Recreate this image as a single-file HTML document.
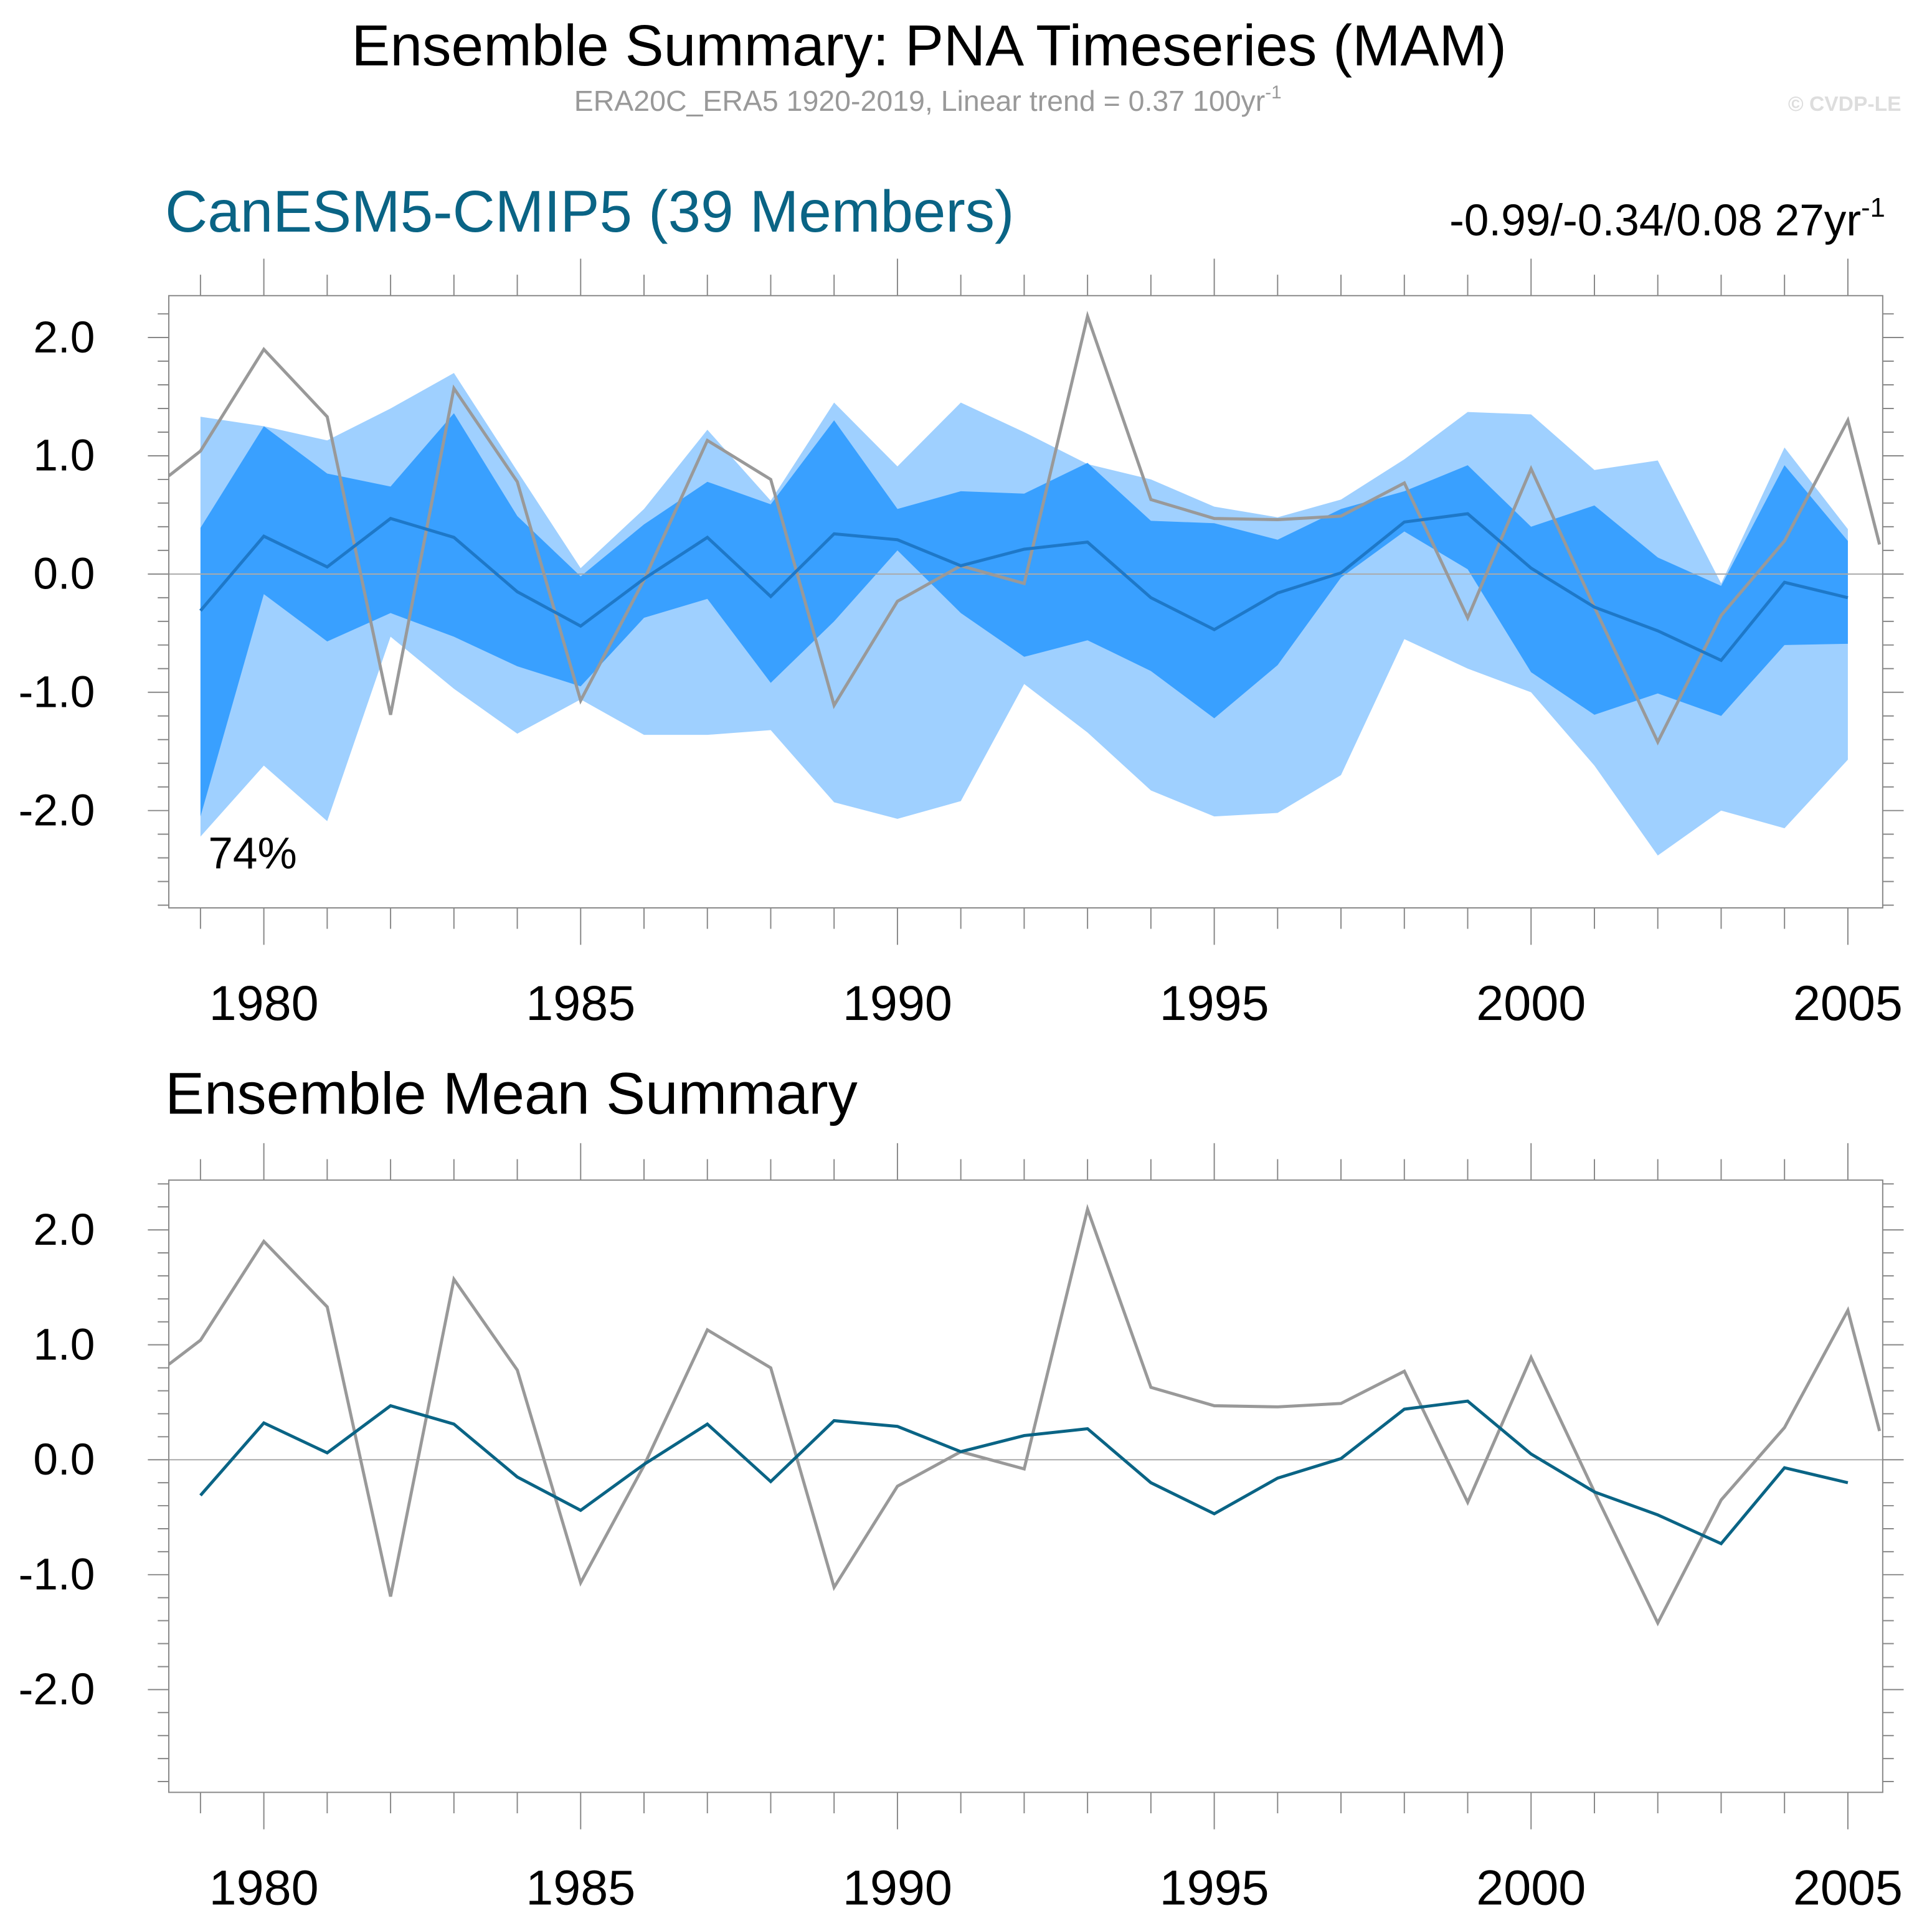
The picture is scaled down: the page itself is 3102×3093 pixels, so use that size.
<!DOCTYPE html>
<html><head><meta charset="utf-8"><style>
html,body{margin:0;padding:0;background:#fff;}
svg{display:block;font-family:"Liberation Sans",Arial,sans-serif;}
</style></head><body>
<svg id="chart" width="3102" height="3093" viewBox="0 0 1568 1563.5" preserveAspectRatio="none" xmlns="http://www.w3.org/2000/svg">
<text x="754" y="53" font-size="47" text-anchor="middle" fill="#000">Ensemble Summary: PNA Timeseries (MAM)</text>
<text x="753" y="90" font-size="23.5" text-anchor="middle" fill="#999">ERA20C_ERA5 1920-2019, Linear trend = 0.37 100yr<tspan font-size="15" dy="-10">-1</tspan></text>
<text x="1543" y="90" font-size="17" font-weight="bold" text-anchor="end" fill="#ddd">© CVDP-LE</text>
<text x="134" y="188" font-size="47.7" fill="#0a6485">CanESM5-CMIP5 (39 Members)</text>
<text x="1530" y="191" font-size="36" text-anchor="end" fill="#000">-0.99/-0.34/0.08 27yr<tspan font-size="22" dy="-15">-1</tspan></text>
<text x="134" y="904" font-size="47.7" fill="#000">Ensemble Mean Summary</text>
<g id="p1"></g><g id="p2"></g>
</svg>
<script>
const years=[1979,1980,1981,1982,1983,1984,1985,1986,1987,1988,1989,1990,1991,1992,1993,1994,1995,1996,1997,1998,1999,2000,2001,2002,2003,2004,2005];
const obsYears=[1978.5].concat(years,[2005.5]);
const obs=[0.83,1.04,1.90,1.33,-1.19,1.57,0.78,-1.07,-0.05,1.13,0.80,-1.11,-0.23,0.07,-0.08,2.18,0.63,0.47,0.46,0.49,0.77,-0.37,0.89,-0.28,-1.42,-0.35,0.28,1.30,0.25];
const ensMean=[-0.31,0.32,0.06,0.47,0.31,-0.15,-0.44,-0.04,0.31,-0.19,0.34,0.29,0.07,0.21,0.27,-0.20,-0.47,-0.16,0.01,0.44,0.51,0.05,-0.28,-0.48,-0.73,-0.07,-0.20];
const ensMax=[1.33,1.25,1.13,1.40,1.70,0.87,0.05,0.55,1.22,0.62,1.45,0.91,1.45,1.20,0.93,0.80,0.57,0.48,0.63,0.97,1.37,1.35,0.88,0.96,-0.08,1.07,0.38];
const ensMin=[-2.22,-1.62,-2.09,-0.53,-0.97,-1.35,-1.06,-1.36,-1.36,-1.32,-1.93,-2.07,-1.92,-0.93,-1.34,-1.83,-2.05,-2.02,-1.70,-0.55,-0.80,-1.00,-1.62,-2.38,-2.00,-2.15,-1.57];
const ensHi=[0.39,1.25,0.85,0.74,1.36,0.49,-0.02,0.42,0.78,0.59,1.30,0.55,0.70,0.68,0.94,0.45,0.43,0.29,0.55,0.70,0.92,0.40,0.58,0.14,-0.10,0.92,0.28];
const ensLo=[-2.05,-0.17,-0.57,-0.33,-0.53,-0.78,-0.95,-0.37,-0.21,-0.92,-0.40,0.20,-0.33,-0.70,-0.56,-0.82,-1.22,-0.77,-0.03,0.36,0.04,-0.83,-1.19,-1.01,-1.20,-0.60,-0.59];
const yTicks=[2,1,0,-1,-2];
const yTickLabels=["2.0","1.0","0.0","-1.0","-2.0"];
const xTicks=[1980,1985,1990,1995,2000,2005];
const NS="http://www.w3.org/2000/svg";
function mk(parent,tag,attrs){const e=document.createElementNS(NS,tag);for(const k in attrs)e.setAttribute(k,attrs[k]);parent.appendChild(e);return e;}
function panel(gid,top,bottom,zeroY,unit,showBands,meanColor,label){
  const g=document.getElementById(gid);
  const L=137,R=1528,x0=1978.5,x1=2005.55;
  const X=v=>L+(v-x0)/(x1-x0)*(R-L);
  const Y=v=>zeroY-v*unit;
  const clip=mk(g,'clipPath',{id:gid+'c'});
  mk(clip,'rect',{x:L,y:top,width:R-L,height:bottom-top});
  const cg=mk(g,'g',{'clip-path':'url(#'+gid+'c)'});
  
  
  if(showBands){
    const band=(up,lo,fill,name)=>{
      let pts=years.map((y,i)=>X(y)+','+Y(up[i]));
      for(let i=years.length-1;i>=0;i--)pts.push(X(years[i])+','+Y(lo[i]));
      const p=mk(cg,'polygon',{points:pts.join(' '),fill:fill});
      
      
    };
    band(ensMax,ensMin,'#9fd0ff','minmax-band');
    band(ensHi,ensLo,'#39a0ff','spread-band');
  }
  const zl=mk(cg,'line',{x1:L,x2:R,y1:Y(0),y2:Y(0),stroke:'#aaa','stroke-width':1});
  
  
  const o=mk(cg,'polyline',{points:obsYears.map((y,i)=>X(y)+','+Y(obs[i])).join(' '),fill:'none',stroke:'#999','stroke-width':2.5});
  
  
  const m=mk(cg,'polyline',{points:years.map((y,i)=>X(y)+','+Y(ensMean[i])).join(' '),fill:'none',stroke:meanColor,'stroke-width':2.5});
  
  
  const fr=mk(g,'rect',{x:L,y:top,width:R-L,height:bottom-top,fill:'none',stroke:'#888','stroke-width':1});
  
  
  for(let v=-2.8;v<=2.41;v+=0.2){
    const vv=Math.round(v*10)/10;const yy=Y(vv);
    if(yy<top||yy>bottom)continue;
    const major=Math.abs(vv-Math.round(vv))<1e-6;
    const len=major?17:9;
    mk(g,'line',{x1:L-len,x2:L,y1:yy,y2:yy,stroke:'#888','stroke-width':1});
    mk(g,'line',{x1:R,x2:R+len,y1:yy,y2:yy,stroke:'#888','stroke-width':1});
  }
  yTicks.forEach((v,i)=>{
    const t=mk(g,'text',{x:77,y:Y(v)+12,'font-size':36,'text-anchor':'end',fill:'#000'});
    t.textContent=yTickLabels[i];
    
    
  });
  for(let yr=1979;yr<=2005;yr++){
    const major=yr%5===0;const len=major?30:17;const xx=X(yr);
    mk(g,'line',{x1:xx,x2:xx,y1:top-len,y2:top,stroke:'#888','stroke-width':1});
    mk(g,'line',{x1:xx,x2:xx,y1:bottom,y2:bottom+len,stroke:'#888','stroke-width':1});
  }
  xTicks.forEach(v=>{
    const t=mk(g,'text',{x:X(v),y:bottom+91,'font-size':40,'text-anchor':'middle',fill:'#000'});
    t.textContent=String(v);
    
    
  });
  if(label){
    const t=mk(g,'text',{x:169,y:705,'font-size':36,fill:'#000'});
    t.textContent=label;
    
    
  }
}
panel('p1',240,737,466,96,true,'#1e78c8','74%');
panel('p2',958,1455,1185,93.3,false,'#0a6485',null);
</script>
</body></html>
